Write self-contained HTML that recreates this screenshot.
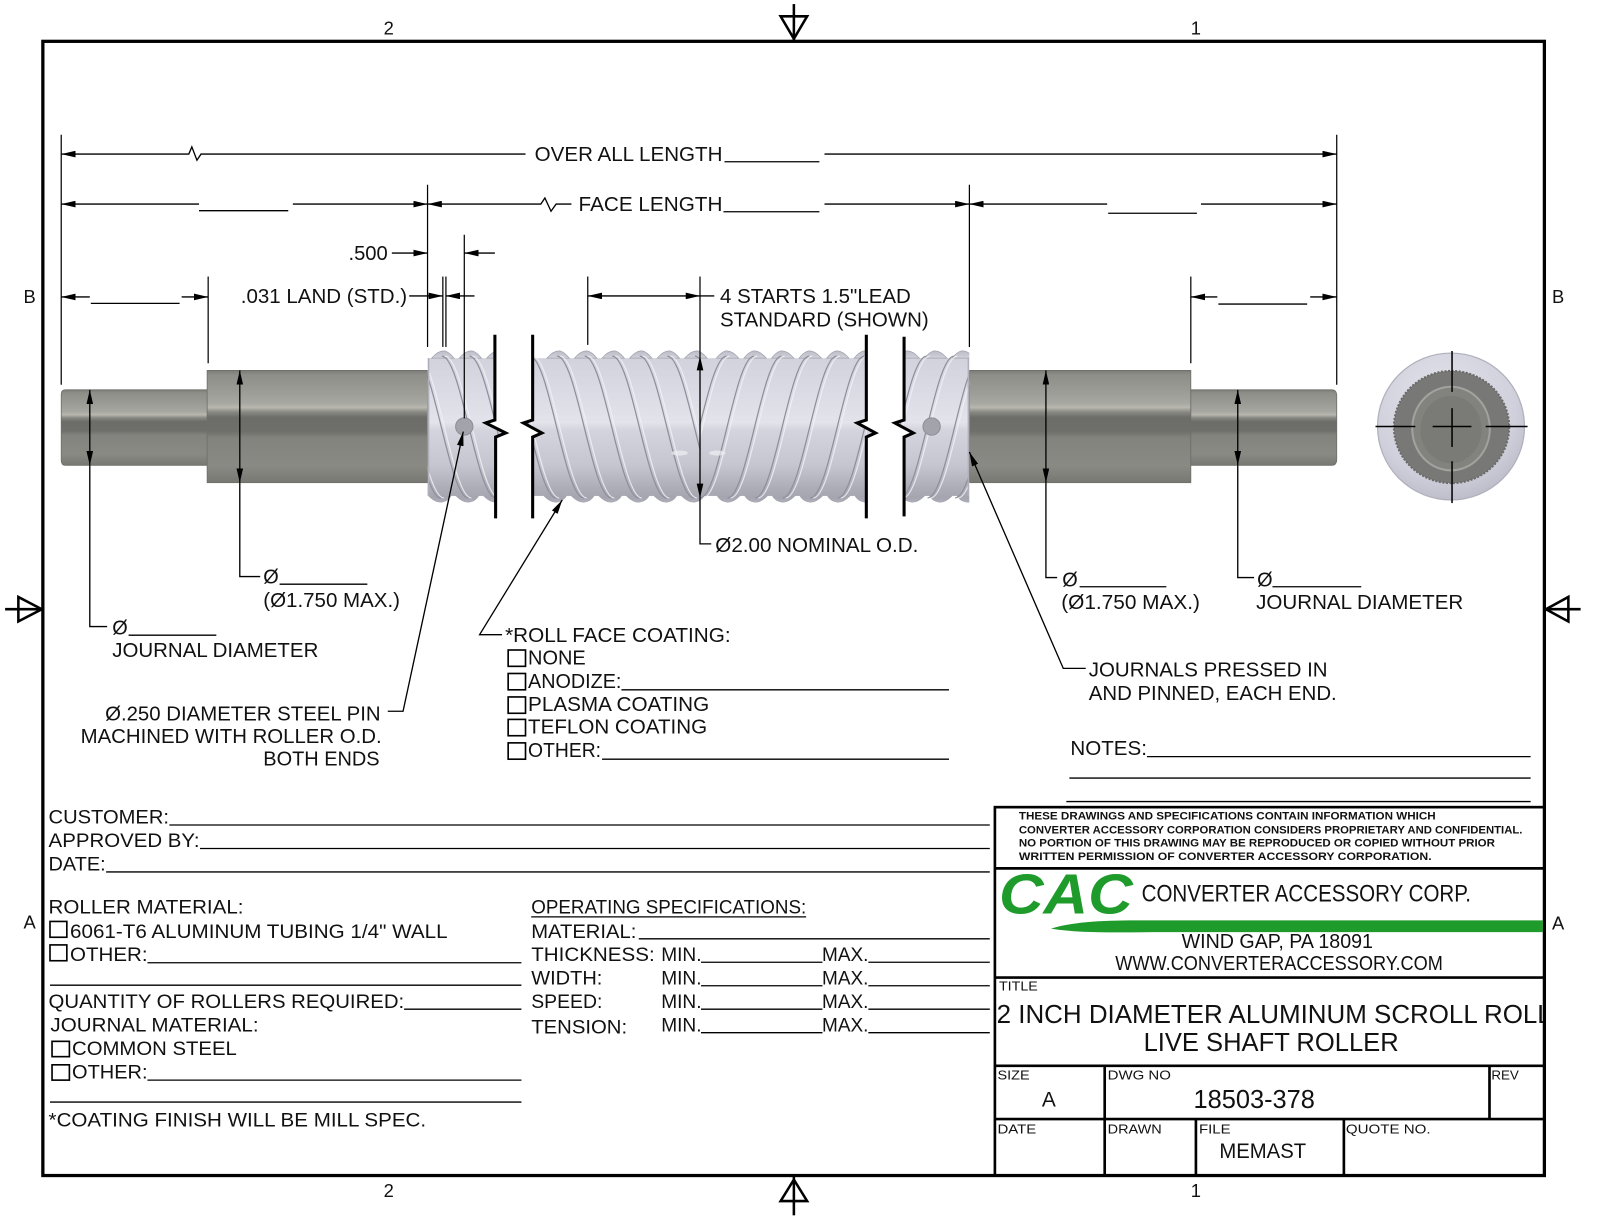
<!DOCTYPE html>
<html><head><meta charset="utf-8"><style>
html,body{margin:0;padding:0;background:#fff;}
svg{display:block;}
text{font-family:"Liberation Sans",Arial,sans-serif;fill:#111;}
</style></head><body>
<svg width="1600" height="1217" viewBox="0 0 1568 1192.64" preserveAspectRatio="none" xmlns="http://www.w3.org/2000/svg">
<defs>
<marker id="ar" viewBox="0 0 14 6.5" refX="14" refY="3.25" markerWidth="14" markerHeight="6.5" markerUnits="userSpaceOnUse" orient="auto-start-reverse"><path d="M0,0 L14,3.25 L0,6.5 Z" fill="#000"/></marker>
<linearGradient id="jg" x1="0" y1="0" x2="0" y2="1">
<stop offset="0" stop-color="#7c7c77"/><stop offset="0.04" stop-color="#8e8e89"/><stop offset="0.2" stop-color="#9d9d97"/><stop offset="0.29" stop-color="#a7a7a1"/><stop offset="0.33" stop-color="#b8b8b0"/><stop offset="0.37" stop-color="#8a8a85"/><stop offset="0.42" stop-color="#6c6c68"/><stop offset="0.54" stop-color="#6e6e6a"/><stop offset="0.6" stop-color="#83837e"/><stop offset="0.85" stop-color="#8a8a85"/><stop offset="1" stop-color="#787873"/>
</linearGradient>
<linearGradient id="rg" gradientUnits="userSpaceOnUse" x1="0" y1="344" x2="0" y2="493">
<stop offset="0" stop-color="#bdbdc8"/><stop offset="0.05" stop-color="#d2d2dc"/><stop offset="0.3" stop-color="#dcdce6"/><stop offset="0.47" stop-color="#e3e3eb"/><stop offset="0.52" stop-color="#d4d4de"/><stop offset="0.75" stop-color="#c6c6d0"/><stop offset="0.9" stop-color="#adadb8"/><stop offset="0.97" stop-color="#a5a5b0"/><stop offset="1" stop-color="#b5b5c0"/>
</linearGradient>
<radialGradient id="eg" cx="0.45" cy="0.35" r="0.7">
<stop offset="0" stop-color="#e6e6ee"/><stop offset="0.7" stop-color="#d0d0dc"/><stop offset="1" stop-color="#b9b9c6"/>
</radialGradient>
<clipPath id="cLeft"><path d="M419,340 L485,340 L485,411.6 L476,414.5 L495.6,424.3 L485.7,428.3 L485.7,500 L419,500 Z"/></clipPath>
<clipPath id="cMid"><path d="M522,340 L522,411.6 L513,414.5 L531,424.3 L522,428.3 L522,500 L849,500 L849,428.3 L858,424.3 L840,414.5 L849,411.6 L849,340 Z"/></clipPath>
<clipPath id="cRight"><path d="M886,340 L886,411.6 L877,414.5 L895,424.3 L886,428.3 L886,500 L950,500 L950,340 Z"/></clipPath>
<clipPath id="hL"><rect x="500" y="330" width="186" height="180"/></clipPath>
<clipPath id="hR"><rect x="686" y="330" width="190" height="180"/></clipPath>
<clipPath id="tclip"><rect x="975" y="960" width="537" height="80"/></clipPath>
</defs>

<!-- Frame -->
<rect x="42" y="40.5" width="1471.5" height="1111.5" fill="none" stroke="#000" stroke-width="3.2"/>
<g font-size="18">
<text x="381" y="34" text-anchor="middle">2</text>
<text x="1172" y="34" text-anchor="middle">1</text>
<text x="381" y="1173" text-anchor="middle">2</text>
<text x="1172" y="1173" text-anchor="middle">1</text>
<text x="29" y="297" text-anchor="middle">B</text>
<text x="1527" y="297" text-anchor="middle">B</text>
<text x="29" y="910" text-anchor="middle">A</text>
<text x="1527" y="911" text-anchor="middle">A</text>
</g>
<g stroke="#000" stroke-width="2.5" fill="none">
<line x1="778" y1="4" x2="778" y2="40"/><polygon points="765,16 791,16 778,38"/>
<line x1="778" y1="1152" x2="778" y2="1191"/><polygon points="765,1177 791,1177 778,1156"/>
<line x1="5" y1="597" x2="42" y2="597"/><polygon points="18,585 18,609 41,597"/>
<line x1="1514" y1="597" x2="1549" y2="597"/><polygon points="1537,585 1537,609 1515,597"/>
</g>

<!-- Journals -->
<path d="M64,382 L204,382 L204,456 L64,456 Q60,456 60,451 L60,387 Q60,382 64,382 Z" fill="url(#jg)" stroke="#6e6e6a" stroke-width="0.8"/>
<rect x="203" y="363" width="216" height="110" fill="url(#jg)" stroke="#6e6e6a" stroke-width="0.8"/>
<rect x="950" y="363" width="217" height="110" fill="url(#jg)" stroke="#6e6e6a" stroke-width="0.8"/>
<path d="M1167,382 L1305,382 Q1310,382 1310,388 L1310,450 Q1310,456 1305,456 L1167,456 Z" fill="url(#jg)" stroke="#6e6e6a" stroke-width="0.8"/>

<!-- Roller left segment -->
<g clip-path="url(#cLeft)">
<rect x="419" y="351" width="80" height="135" fill="url(#rg)"/>
<g fill="url(#rg)" stroke="#a2a2ae" stroke-width="0.7">
<path d="M423,351 Q430,343 436,344 Q440,345 445,351 Z"/><path d="M450,351 Q457,343 463,344 Q467,345 472,351 Z"/><path d="M477,351 Q484,343 490,344 Q494,345 499,351 Z"/>
<path d="M420,486 Q427,493 433,492 Q439,491 442,486 Z"/><path d="M447,486 Q454,493 460,492 Q466,491 469,486 Z"/><path d="M474,486 Q481,493 487,492 Q493,491 496,486 Z"/>
</g>
<g fill="none" stroke="#8f8f9c" stroke-width="1.2">
<path d="M379,349 C398,349 413,488 432,488"/><path d="M406,349 C425,349 440,488 459,488"/><path d="M433,349 C452,349 467,488 486,488"/><path d="M460,349 C479,349 494,488 513,488"/>
</g>
<g fill="none" stroke="#f2f2f7" stroke-width="1.2" opacity="0.8">
<path d="M382,349 C401,349 416,488 435,488"/><path d="M409,349 C428,349 443,488 462,488"/><path d="M436,349 C455,349 470,488 489,488"/><path d="M463,349 C482,349 497,488 516,488"/>
</g>
<line x1="420" y1="351" x2="420" y2="486" stroke="#b0b0bb" stroke-width="1.5"/>
</g>

<!-- Roller middle -->
<g clip-path="url(#cMid)">
<rect x="505" y="351" width="360" height="135" fill="url(#rg)"/>
<g fill="url(#rg)" stroke="#a2a2ae" stroke-width="0.7">
<path d="M536,351 Q543,343 549,344 Q553,345 558,351 Z"/><path d="M563,351 Q570,343 576,344 Q580,345 585,351 Z"/><path d="M590,351 Q597,343 603,344 Q607,345 612,351 Z"/><path d="M617,351 Q624,343 630,344 Q634,345 639,351 Z"/><path d="M644,351 Q651,343 657,344 Q661,345 666,351 Z"/><path d="M671,351 Q678,343 684,344 Q688,345 693,351 Z"/>
<path d="M702,351 Q707,345 711,344 Q717,343 724,351 Z"/><path d="M729,351 Q734,345 738,344 Q744,343 751,351 Z"/><path d="M756,351 Q761,345 765,344 Q771,343 778,351 Z"/><path d="M783,351 Q788,345 792,344 Q798,343 805,351 Z"/><path d="M810,351 Q815,345 819,344 Q825,343 832,351 Z"/><path d="M837,351 Q842,345 846,344 Q852,343 859,351 Z"/>
<path d="M533,486 Q540,493 546,492 Q552,491 555,486 Z"/><path d="M560,486 Q567,493 573,492 Q579,491 582,486 Z"/><path d="M587,486 Q594,493 600,492 Q606,491 609,486 Z"/><path d="M614,486 Q621,493 627,492 Q633,491 636,486 Z"/><path d="M641,486 Q648,493 654,492 Q660,491 663,486 Z"/><path d="M668,486 Q675,493 681,492 Q687,491 690,486 Z"/>
<path d="M703,486 Q706,491 712,492 Q718,493 725,486 Z"/><path d="M730,486 Q733,491 739,492 Q745,493 752,486 Z"/><path d="M757,486 Q760,491 766,492 Q772,493 779,486 Z"/><path d="M784,486 Q787,491 793,492 Q799,493 806,486 Z"/><path d="M811,486 Q814,491 820,492 Q826,493 833,486 Z"/><path d="M838,486 Q841,491 847,492 Q853,493 860,486 Z"/>
</g>
<g clip-path="url(#hL)">
<g fill="none" stroke="#8f8f9c" stroke-width="1.2">
<path d="M492,349 C511,349 526,488 545,488"/><path d="M519,349 C538,349 553,488 572,488"/><path d="M546,349 C565,349 580,488 599,488"/><path d="M573,349 C592,349 607,488 626,488"/><path d="M600,349 C619,349 634,488 653,488"/><path d="M627,349 C646,349 661,488 680,488"/><path d="M654,349 C673,349 688,488 707,488"/><path d="M681,349 C700,349 715,488 734,488"/>
</g>
<g fill="none" stroke="#f2f2f7" stroke-width="1.2" opacity="0.8">
<path d="M495,349 C514,349 529,488 548,488"/><path d="M522,349 C541,349 556,488 575,488"/><path d="M549,349 C568,349 583,488 602,488"/><path d="M576,349 C595,349 610,488 629,488"/><path d="M603,349 C622,349 637,488 656,488"/><path d="M630,349 C649,349 664,488 683,488"/><path d="M657,349 C676,349 691,488 710,488"/>
</g>
</g>
<g clip-path="url(#hR)">
<g fill="none" stroke="#8f8f9c" stroke-width="1.2">
<path d="M712,349 C693,349 678,488 659,488"/><path d="M739,349 C720,349 705,488 686,488"/><path d="M766,349 C747,349 732,488 713,488"/><path d="M793,349 C774,349 759,488 740,488"/><path d="M820,349 C801,349 786,488 767,488"/><path d="M847,349 C828,349 813,488 794,488"/><path d="M874,349 C855,349 840,488 821,488"/><path d="M901,349 C882,349 867,488 848,488"/>
</g>
<g fill="none" stroke="#f2f2f7" stroke-width="1.2" opacity="0.8">
<path d="M715,349 C696,349 681,488 662,488"/><path d="M742,349 C723,349 708,488 689,488"/><path d="M769,349 C750,349 735,488 716,488"/><path d="M796,349 C777,349 762,488 743,488"/><path d="M823,349 C804,349 789,488 770,488"/><path d="M850,349 C831,349 816,488 797,488"/><path d="M877,349 C858,349 843,488 824,488"/><path d="M904,349 C885,349 870,488 851,488"/>
</g>
</g>
<ellipse cx="666" cy="444" rx="8" ry="2.5" fill="#eeeef4" opacity="0.7"/><ellipse cx="703" cy="444" rx="8" ry="2.5" fill="#eeeef4" opacity="0.7"/>
</g>

<!-- Roller right segment -->
<g clip-path="url(#cRight)">
<rect x="870" y="351" width="80" height="135" fill="url(#rg)"/>
<g fill="url(#rg)" stroke="#a2a2ae" stroke-width="0.7">
<path d="M879,351 Q884,345 888,344 Q894,343 901,351 Z"/><path d="M906,351 Q911,345 915,344 Q921,343 928,351 Z"/><path d="M933,351 Q938,345 942,344 Q948,343 955,351 Z"/>
<path d="M884,486 Q887,491 893,492 Q899,493 906,486 Z"/><path d="M911,486 Q914,491 920,492 Q926,493 933,486 Z"/><path d="M938,486 Q941,491 947,492 Q953,493 960,486 Z"/>
</g>
<g fill="none" stroke="#8f8f9c" stroke-width="1.2">
<path d="M908,349 C889,349 874,488 855,488"/><path d="M935,349 C916,349 901,488 882,488"/><path d="M962,349 C943,349 928,488 909,488"/><path d="M989,349 C970,349 955,488 936,488"/>
</g>
<g fill="none" stroke="#f2f2f7" stroke-width="1.2" opacity="0.8">
<path d="M911,349 C892,349 877,488 858,488"/><path d="M938,349 C919,349 904,488 885,488"/><path d="M965,349 C946,349 931,488 912,488"/><path d="M992,349 C973,349 958,488 939,488"/>
</g>
<line x1="949" y1="351" x2="949" y2="486" stroke="#b0b0bb" stroke-width="1.5"/>
</g>

<!-- Pins -->
<circle cx="455" cy="418" r="8.5" fill="#a3a3ab" stroke="#8e8e97" stroke-width="1"/>
<circle cx="913" cy="418" r="8.5" fill="#a3a3ab" stroke="#8e8e97" stroke-width="1"/>

<!-- Break lines -->
<g stroke="#000" stroke-width="3" fill="none" stroke-linejoin="miter">
<path d="M485,328 L485,411.6 L476,414.5 L495.6,424.3 L485.7,428.3 L485.7,508"/>
<path d="M522,328 L522,411.6 L513,414.5 L531,424.3 L522,428.3 L522,508"/>
<path d="M849,328 L849,411.6 L840,414.5 L858,424.3 L849,428.3 L849,508"/>
<path d="M886,330 L886,411.6 L877,414.5 L895,424.3 L886,428.3 L886,506"/>
</g>

<!-- End view -->
<ellipse cx="1422" cy="418" rx="72" ry="72" fill="url(#eg)" stroke="#b0b0bc" stroke-width="1.2"/>
<ellipse cx="1422.5" cy="418.5" rx="56.5" ry="55" fill="#787876" stroke="#6a6a68" stroke-width="2" stroke-dasharray="2 1.5"/>
<ellipse cx="1422" cy="420" rx="38" ry="41" fill="#82827f" stroke="#a2a29e" stroke-width="2"/>
<ellipse cx="1422" cy="421" rx="30" ry="33" fill="#7a7a77"/>
<g stroke="#000" stroke-width="1.5">
<line x1="1348" y1="418" x2="1387" y2="418"/><line x1="1404" y1="418" x2="1442" y2="418"/><line x1="1456" y1="418" x2="1497" y2="418"/>
<line x1="1423" y1="344" x2="1423" y2="384"/><line x1="1423" y1="400" x2="1423" y2="438"/><line x1="1423" y1="452" x2="1423" y2="493"/>
</g>

<!-- Extension lines -->
<g stroke="#000" stroke-width="1.2">
<line x1="60" y1="132" x2="60" y2="377"/>
<line x1="1310" y1="132" x2="1310" y2="377"/>
<line x1="204" y1="271" x2="204" y2="356"/>
<line x1="1167" y1="271" x2="1167" y2="356"/>
<line x1="419" y1="181" x2="419" y2="340"/>
<line x1="950" y1="181" x2="950" y2="340"/>
<line x1="434" y1="271" x2="434" y2="340"/>
<line x1="437" y1="271" x2="437" y2="340"/>
<line x1="455" y1="230" x2="455" y2="410"/>
<line x1="576" y1="271" x2="576" y2="338"/>
<line x1="686" y1="271" x2="686" y2="349"/>
</g>

<!-- Dimension lines -->
<g stroke="#000" stroke-width="1.3" fill="none">
<path d="M60,151 L185,151 L188,144 L193,157 L197,151 L515,151" marker-start="url(#ar)"/>
<path d="M808,151 L1310,151" marker-end="url(#ar)"/>
<line x1="710" y1="158.5" x2="803" y2="158.5"/>
<path d="M60,200 L195,200" marker-start="url(#ar)"/>
<line x1="195" y1="206.5" x2="282.5" y2="206.5"/>
<path d="M287,200 L419,200" marker-end="url(#ar)"/>
<path d="M419,200 L530,200 L534,194 L540,207 L545,200 L560,200" marker-start="url(#ar)"/>
<line x1="709" y1="207.5" x2="803" y2="207.5"/>
<path d="M808,200 L950,200" marker-end="url(#ar)"/>
<path d="M950,200 L1085,200" marker-start="url(#ar)"/>
<line x1="1086" y1="209" x2="1173" y2="209"/>
<path d="M1177,200 L1310,200" marker-end="url(#ar)"/>
<path d="M384,248 L419,248" marker-end="url(#ar)"/>
<path d="M455,248 L485,248" marker-start="url(#ar)"/>
<path d="M401,290 L434,290" marker-end="url(#ar)"/>
<path d="M437,290 L465,290" marker-start="url(#ar)"/>
<path d="M60,291 L88,291" marker-start="url(#ar)"/>
<line x1="89" y1="297.3" x2="176" y2="297.3"/>
<path d="M178,291 L204,291" marker-end="url(#ar)"/>
<path d="M1167,291 L1193,291" marker-start="url(#ar)"/>
<line x1="1194" y1="298" x2="1281" y2="298"/>
<path d="M1284,291 L1310,291" marker-end="url(#ar)"/>
<path d="M576,290 L686,290" marker-start="url(#ar)" marker-end="url(#ar)"/>
<line x1="686" y1="290" x2="700" y2="290"/>
<!-- diameters -->
<path d="M88,382 L88,456" marker-start="url(#ar)" marker-end="url(#ar)"/>
<path d="M88,456 L88,614 L105,614"/>
<line x1="126" y1="622.5" x2="212" y2="622.5"/>
<path d="M235,363 L235,473" marker-start="url(#ar)" marker-end="url(#ar)"/>
<path d="M235,473 L235,565 L255,565"/>
<line x1="274" y1="572.5" x2="360" y2="572.5"/>
<path d="M686,349 L686,488" marker-start="url(#ar)" marker-end="url(#ar)"/>
<path d="M686,488 L686,533 L697,533"/>
<path d="M1025,363 L1025,473" marker-start="url(#ar)" marker-end="url(#ar)"/>
<path d="M1025,473 L1025,566 L1036,566"/>
<line x1="1058" y1="575" x2="1143" y2="575"/>
<path d="M1213,382 L1213,456" marker-start="url(#ar)" marker-end="url(#ar)"/>
<path d="M1213,456 L1213,566 L1229,566"/>
<line x1="1247" y1="575" x2="1334" y2="575"/>
<!-- leaders -->
<path d="M454,423 L395,697 L380,697" marker-start="url(#ar)"/>
<path d="M551,490 L470,622 L492,622" marker-start="url(#ar)"/>
<path d="M950,443 L1042,655 L1064,655" marker-start="url(#ar)"/>
<!-- coating underlines -->
<line x1="609" y1="676" x2="930" y2="676"/>
<line x1="590" y1="744" x2="930" y2="744"/>
<!-- notes -->
<line x1="1124" y1="741.5" x2="1500" y2="741.5"/>
<line x1="1048" y1="762.5" x2="1500" y2="762.5"/>
<line x1="1045" y1="785.5" x2="1500" y2="785.5"/>
</g>

<!-- Dimension text -->
<g font-size="19.5">
<text x="524" y="158" textLength="184" lengthAdjust="spacingAndGlyphs">OVER ALL LENGTH</text>
<text x="567" y="207" textLength="141" lengthAdjust="spacingAndGlyphs">FACE LENGTH</text>
<text x="341.5" y="255" textLength="38.5" lengthAdjust="spacingAndGlyphs">.500</text>
<text x="236" y="297" textLength="163" lengthAdjust="spacingAndGlyphs">.031 LAND (STD.)</text>
<text x="705.6" y="297" textLength="187" lengthAdjust="spacingAndGlyphs">4 STARTS 1.5"LEAD</text>
<text x="705.6" y="320" textLength="204.5" lengthAdjust="spacingAndGlyphs">STANDARD (SHOWN)</text>
<text x="701" y="541" textLength="199" lengthAdjust="spacingAndGlyphs">Ø2.00 NOMINAL O.D.</text>
<text x="110" y="622">Ø</text>
<text x="110" y="644" textLength="202" lengthAdjust="spacingAndGlyphs">JOURNAL DIAMETER</text>
<text x="258" y="572">Ø</text>
<text x="258" y="595" textLength="134" lengthAdjust="spacingAndGlyphs">(Ø1.750 MAX.)</text>
<text x="1041" y="575">Ø</text>
<text x="1040" y="597" textLength="136" lengthAdjust="spacingAndGlyphs">(Ø1.750 MAX.)</text>
<text x="1232" y="575">Ø</text>
<text x="1231" y="597" textLength="203" lengthAdjust="spacingAndGlyphs">JOURNAL DIAMETER</text>
<text x="103" y="706" textLength="270" lengthAdjust="spacingAndGlyphs">Ø.250 DIAMETER STEEL PIN</text>
<text x="79" y="728" textLength="295" lengthAdjust="spacingAndGlyphs">MACHINED WITH ROLLER O.D.</text>
<text x="258" y="750" textLength="114" lengthAdjust="spacingAndGlyphs">BOTH ENDS</text>
<text x="495" y="629" textLength="221" lengthAdjust="spacingAndGlyphs">*ROLL FACE COATING:</text>
<text x="517.5" y="651" textLength="56.5" lengthAdjust="spacingAndGlyphs">NONE</text>
<text x="517.5" y="674" textLength="91.5" lengthAdjust="spacingAndGlyphs">ANODIZE:</text>
<text x="517.5" y="697" textLength="177.5" lengthAdjust="spacingAndGlyphs">PLASMA COATING</text>
<text x="517.5" y="719" textLength="175.5" lengthAdjust="spacingAndGlyphs">TEFLON COATING</text>
<text x="517.5" y="742" textLength="71.5" lengthAdjust="spacingAndGlyphs">OTHER:</text>
<text x="1067" y="663" textLength="234" lengthAdjust="spacingAndGlyphs">JOURNALS PRESSED IN</text>
<text x="1067" y="686" textLength="243" lengthAdjust="spacingAndGlyphs">AND PINNED, EACH END.</text>
<text x="1049" y="740" textLength="75" lengthAdjust="spacingAndGlyphs">NOTES:</text>
</g>
<g fill="none" stroke="#000" stroke-width="1.6">
<rect x="498" y="637" width="17" height="16"/>
<rect x="498" y="660" width="17" height="16"/>
<rect x="498" y="683" width="17" height="16"/>
<rect x="498" y="705" width="17" height="16"/>
<rect x="498" y="728" width="17" height="16"/>
</g>

<!-- Bottom-left form -->
<g font-size="19">
<text x="47.6" y="807" textLength="118" lengthAdjust="spacingAndGlyphs">CUSTOMER:</text>
<text x="47.6" y="830" textLength="148" lengthAdjust="spacingAndGlyphs">APPROVED BY:</text>
<text x="47.6" y="853" textLength="56" lengthAdjust="spacingAndGlyphs">DATE:</text>
<text x="47.6" y="895" textLength="191" lengthAdjust="spacingAndGlyphs">ROLLER MATERIAL:</text>
<text x="68.6" y="919" textLength="370" lengthAdjust="spacingAndGlyphs">6061-T6 ALUMINUM TUBING 1/4" WALL</text>
<text x="68.6" y="942" textLength="76" lengthAdjust="spacingAndGlyphs">OTHER:</text>
<text x="47.6" y="988" textLength="348.5" lengthAdjust="spacingAndGlyphs">QUANTITY OF ROLLERS REQUIRED:</text>
<text x="49.4" y="1011" textLength="204" lengthAdjust="spacingAndGlyphs">JOURNAL MATERIAL:</text>
<text x="70.6" y="1034" textLength="161.5" lengthAdjust="spacingAndGlyphs">COMMON STEEL</text>
<text x="70.6" y="1057" textLength="74" lengthAdjust="spacingAndGlyphs">OTHER:</text>
<text x="47.6" y="1104" textLength="370" lengthAdjust="spacingAndGlyphs">*COATING FINISH WILL BE MILL SPEC.</text>
<text x="520.6" y="895" textLength="269.5" lengthAdjust="spacingAndGlyphs">OPERATING SPECIFICATIONS:</text>
<text x="520.6" y="919" textLength="103" lengthAdjust="spacingAndGlyphs">MATERIAL:</text>
<text x="520.6" y="942" textLength="121" lengthAdjust="spacingAndGlyphs">THICKNESS:</text>
<text x="520.6" y="965" textLength="69.7" lengthAdjust="spacingAndGlyphs">WIDTH:</text>
<text x="520.6" y="988" textLength="69.7" lengthAdjust="spacingAndGlyphs">SPEED:</text>
<text x="520.6" y="1013" textLength="94" lengthAdjust="spacingAndGlyphs">TENSION:</text>
<text x="648" y="942" textLength="39.5" lengthAdjust="spacingAndGlyphs">MIN.</text>
<text x="648" y="965" textLength="39.5" lengthAdjust="spacingAndGlyphs">MIN.</text>
<text x="648" y="988" textLength="39.5" lengthAdjust="spacingAndGlyphs">MIN.</text>
<text x="648" y="1011" textLength="39.5" lengthAdjust="spacingAndGlyphs">MIN.</text>
<text x="805.6" y="942" textLength="45.5" lengthAdjust="spacingAndGlyphs">MAX.</text>
<text x="805.6" y="965" textLength="45.5" lengthAdjust="spacingAndGlyphs">MAX.</text>
<text x="805.6" y="988" textLength="45.5" lengthAdjust="spacingAndGlyphs">MAX.</text>
<text x="805.6" y="1011" textLength="45.5" lengthAdjust="spacingAndGlyphs">MAX.</text>
</g>
<g stroke="#000" stroke-width="1.3">
<line x1="166" y1="808.5" x2="970" y2="808.5"/>
<line x1="196" y1="831.5" x2="970" y2="831.5"/>
<line x1="104" y1="854.5" x2="970" y2="854.5"/>
<line x1="144.5" y1="943.5" x2="511" y2="943.5"/>
<line x1="49" y1="965.5" x2="511" y2="965.5"/>
<line x1="396" y1="989" x2="511" y2="989"/>
<line x1="144.5" y1="1058.5" x2="511" y2="1058.5"/>
<line x1="49" y1="1080" x2="511" y2="1080"/>
<line x1="520.6" y1="898.5" x2="790" y2="898.5"/>
<line x1="626" y1="920" x2="970" y2="920"/>
<line x1="687" y1="943" x2="806" y2="943"/><line x1="851" y1="943" x2="970" y2="943"/>
<line x1="687" y1="966" x2="806" y2="966"/><line x1="851" y1="966" x2="970" y2="966"/>
<line x1="687" y1="989" x2="806" y2="989"/><line x1="851" y1="989" x2="970" y2="989"/>
<line x1="687" y1="1012" x2="806" y2="1012"/><line x1="851" y1="1012" x2="970" y2="1012"/>
</g>
<g fill="none" stroke="#000" stroke-width="1.6">
<rect x="49" y="903" width="16.5" height="15.5"/>
<rect x="49" y="926" width="16.5" height="15.5"/>
<rect x="51" y="1020.5" width="17" height="15"/>
<rect x="51" y="1043.5" width="17" height="15"/>
</g>

<!-- Title block -->
<g stroke="#000" stroke-width="2.6" fill="none">
<rect x="975" y="791" width="538.5" height="361"/>
<line x1="975" y1="851" x2="1513" y2="851"/>
<line x1="975" y1="958" x2="1513" y2="958"/>
<line x1="975" y1="1044.5" x2="1513" y2="1044.5"/>
<line x1="975" y1="1096.7" x2="1513" y2="1096.7"/>
<line x1="1082.6" y1="1044.5" x2="1082.6" y2="1152"/>
<line x1="1459.7" y1="1044.5" x2="1459.7" y2="1096.7"/>
<line x1="1172" y1="1096.7" x2="1172" y2="1152"/>
<line x1="1317" y1="1096.7" x2="1317" y2="1152"/>
</g>
<g font-size="10.5" font-weight="bold">
<text x="998.5" y="803" textLength="408.5" lengthAdjust="spacingAndGlyphs">THESE DRAWINGS AND SPECIFICATIONS CONTAIN INFORMATION WHICH</text>
<text x="998.5" y="816.7" textLength="493.5" lengthAdjust="spacingAndGlyphs">CONVERTER ACCESSORY CORPORATION CONSIDERS PROPRIETARY AND CONFIDENTIAL.</text>
<text x="998.5" y="829.7" textLength="466.5" lengthAdjust="spacingAndGlyphs">NO PORTION OF THIS DRAWING MAY BE REPRODUCED OR COPIED WITHOUT PRIOR</text>
<text x="998.5" y="842.8" textLength="404.5" lengthAdjust="spacingAndGlyphs">WRITTEN PERMISSION OF CONVERTER ACCESSORY CORPORATION.</text>
</g>
<path d="M1030,910 C1060,901 1100,902 1140,902 L1512,902 L1512,913.5 L1140,913.5 C1100,913.5 1060,915 1030,910 Z" fill="#1f9b2b"/>
<text x="979" y="895" font-size="55" font-weight="bold" font-style="italic" textLength="131" lengthAdjust="spacingAndGlyphs" style="fill:#1f9b2b">CAC</text>
<text x="1118.8" y="883.6" font-size="23.5" textLength="322.8" lengthAdjust="spacingAndGlyphs">CONVERTER ACCESSORY CORP.</text>
<text x="1158" y="929" font-size="20" textLength="187.5" lengthAdjust="spacingAndGlyphs">WIND GAP, PA 18091</text>
<text x="1093" y="950.6" font-size="19.5" textLength="321" lengthAdjust="spacingAndGlyphs">WWW.CONVERTERACCESSORY.COM</text>
<g font-size="13">
<text x="979" y="970.8" textLength="38" lengthAdjust="spacingAndGlyphs">TITLE</text>
<text x="977.5" y="1057.7" textLength="31.5" lengthAdjust="spacingAndGlyphs">SIZE</text>
<text x="1085.5" y="1057.7" textLength="62" lengthAdjust="spacingAndGlyphs">DWG NO</text>
<text x="1461.5" y="1057.7" textLength="27" lengthAdjust="spacingAndGlyphs">REV</text>
<text x="977.5" y="1110.6" textLength="38" lengthAdjust="spacingAndGlyphs">DATE</text>
<text x="1085.5" y="1110.6" textLength="53" lengthAdjust="spacingAndGlyphs">DRAWN</text>
<text x="1175" y="1110.6" textLength="31" lengthAdjust="spacingAndGlyphs">FILE</text>
<text x="1319" y="1110.6" textLength="83" lengthAdjust="spacingAndGlyphs">QUOTE NO.</text>
</g>
<g clip-path="url(#tclip)">
<text x="976.7" y="1002.7" font-size="25" textLength="544" lengthAdjust="spacingAndGlyphs">2 INCH DIAMETER ALUMINUM SCROLL ROLL</text>
</g>
<text x="1120.7" y="1030" font-size="25" textLength="250" lengthAdjust="spacingAndGlyphs">LIVE SHAFT ROLLER</text>
<text x="1021" y="1084.5" font-size="20.5">A</text>
<text x="1169.6" y="1086" font-size="25" textLength="119" lengthAdjust="spacingAndGlyphs">18503-378</text>
<text x="1195" y="1134.8" font-size="21" textLength="85" lengthAdjust="spacingAndGlyphs">MEMAST</text>
</svg>
</body></html>
